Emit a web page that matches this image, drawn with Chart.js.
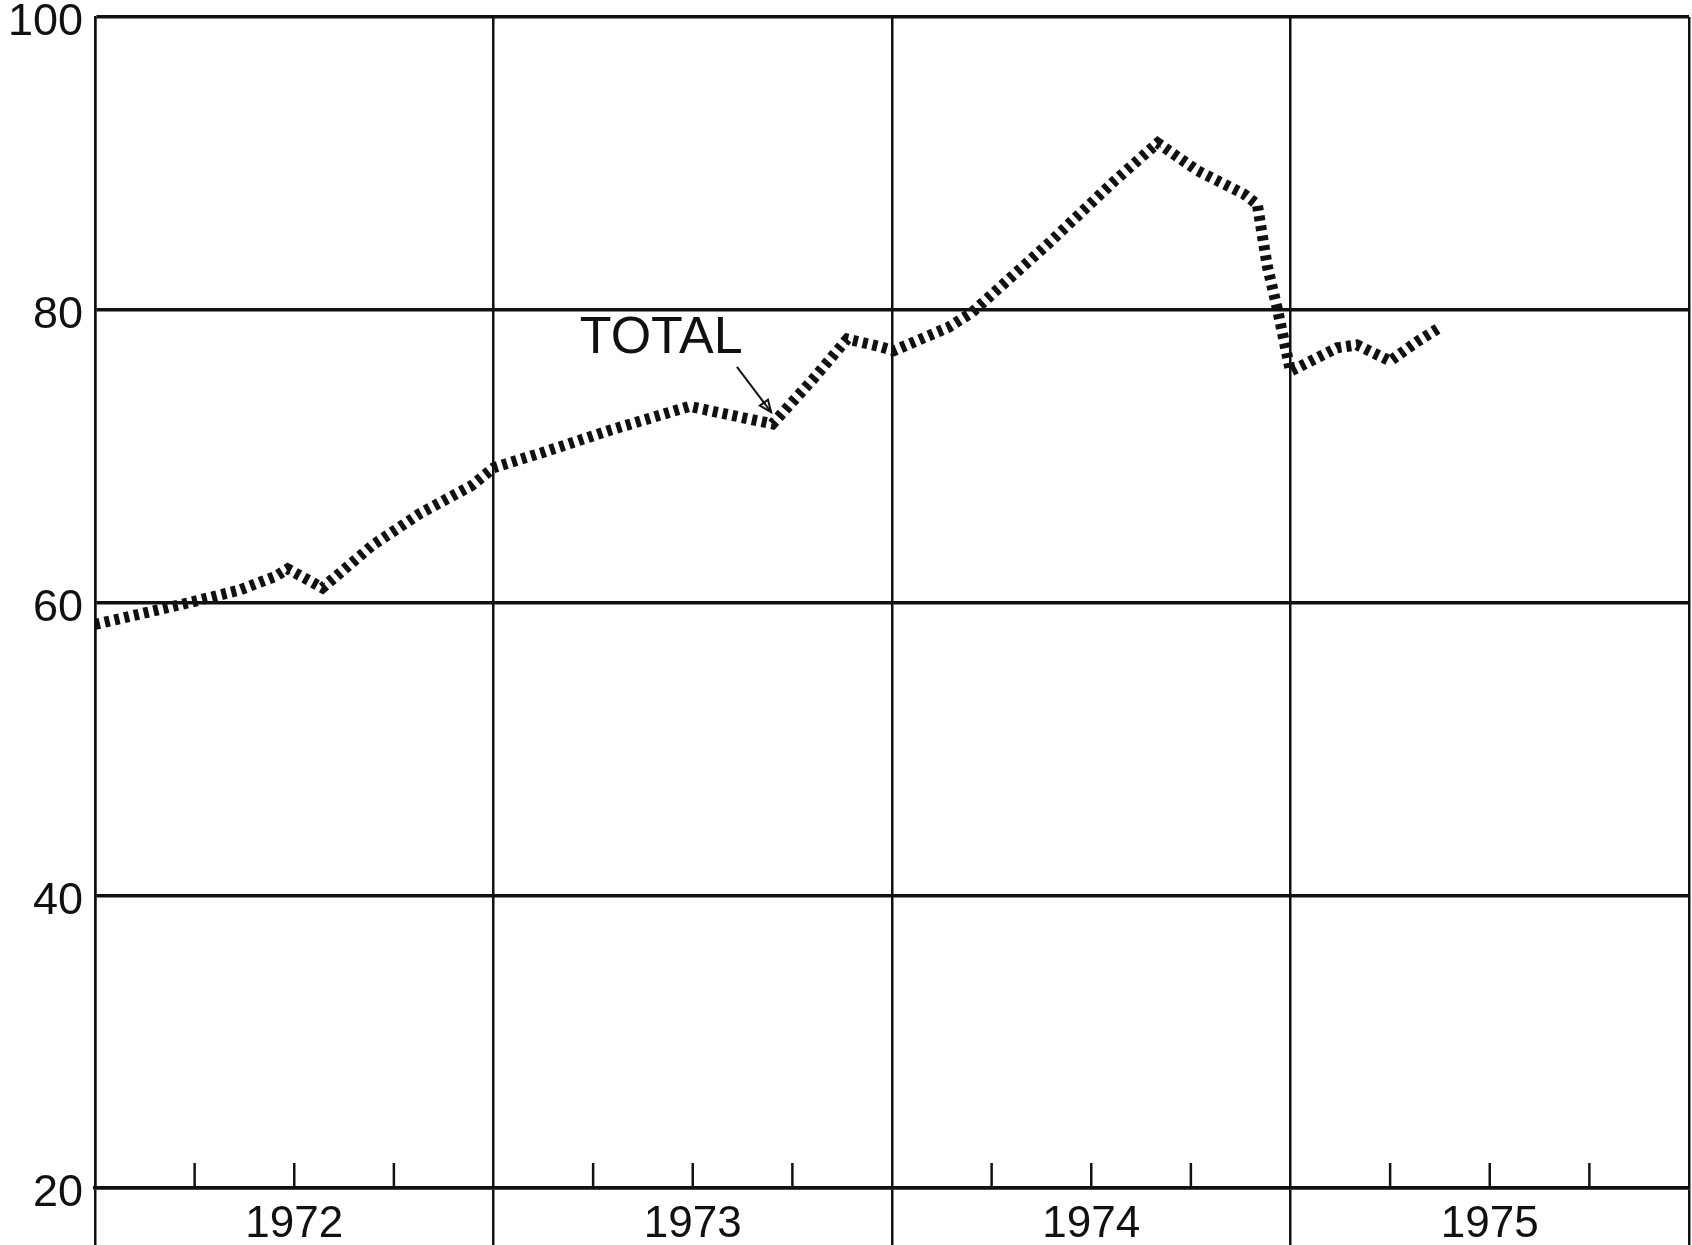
<!DOCTYPE html>
<html>
<head>
<meta charset="utf-8">
<script src="https://cdn.jsdelivr.net/npm/chart.js@4.4.0/dist/chart.umd.min.js"></script>
<style>
  html, body { margin: 0; padding: 0; background: #fff; }
</style>
</head>
<body>
<canvas id="total-chart" width="1692" height="1245"></canvas>
<script>
// x is months since Jan 1972, y is the index value
const yearLabels = ["1972", "1973", "1974", "1975"];
const monthPos = [0, 1.9, 2.85, 4.35, 5.45, 5.8, 6.85, 8.35, 9.8, 11.35, 12.0,
    13.55, 15.55, 17.9, 20.4, 21.6, 22.65, 23.6, 24.05, 25.7, 26.4, 28.7, 30.7,
    32.0, 33.2, 34.6, 35.0, 35.3, 35.6, 36.0, 37.4, 38.0, 39.0, 39.8, 40.5];
const totalValues = [58.5, 59.5, 60.0, 60.85, 61.8, 62.3, 61.0, 63.9, 66.1, 68.0, 69.2,
    70.3, 71.8, 73.4, 72.2, 75.2, 78.0, 77.5, 77.2, 78.8, 79.8, 84.5, 88.8,
    91.4, 89.5, 87.9, 87.2, 83.0, 80.1, 75.8, 77.4, 77.6, 76.5, 77.8, 78.8];
const yTickLabels = ["20", "40", "60", "80", "100"];
const quarterTicks = [3, 6, 9, 15, 18, 21, 27, 30, 33, 39, 42, 45];

// the "TOTAL" note and its arrow, in data units
const seriesLabel = "TOTAL";
const notePos = [14.6, 78.0];
const arrowFrom = [19.33, 76.1];
const arrowTo = [20.36, 73.0];

const ink = "#111";
const fontFamily = "'Liberation Sans Narrow', 'Liberation Sans', sans-serif";

const extras = {
    id: "extras",
    afterDatasetsDraw(chart) {
        const { ctx, chartArea } = chart;
        const x = chart.scales.x, y = chart.scales.y;
        ctx.save();
        ctx.strokeStyle = ink;
        ctx.fillStyle = ink;

        // short quarter marks standing on the base line
        ctx.lineWidth = 2.5;
        quarterTicks.forEach(m => {
            const px = x.getPixelForValue(m);
            ctx.beginPath();
            ctx.moveTo(px, chartArea.bottom);
            ctx.lineTo(px, chartArea.bottom - 25);
            ctx.stroke();
        });

        ctx.font = "52px " + fontFamily;
        ctx.textBaseline = "middle";
        ctx.textAlign = "left";
        ctx.fillText(seriesLabel, x.getPixelForValue(notePos[0]), y.getPixelForValue(notePos[1]));

        const x0 = x.getPixelForValue(arrowFrom[0]), y0 = y.getPixelForValue(arrowFrom[1]);
        const x1 = x.getPixelForValue(arrowTo[0]), y1 = y.getPixelForValue(arrowTo[1]);
        ctx.lineWidth = 2;
        ctx.beginPath();
        ctx.moveTo(x0, y0);
        ctx.lineTo(x1, y1);
        ctx.stroke();
        const a = Math.atan2(y1 - y0, x1 - x0);
        ctx.beginPath();
        ctx.moveTo(x1, y1);
        ctx.lineTo(x1 - 13 * Math.cos(a - 0.4), y1 - 13 * Math.sin(a - 0.4));
        ctx.lineTo(x1 - 13 * Math.cos(a + 0.4), y1 - 13 * Math.sin(a + 0.4));
        ctx.closePath();
        ctx.stroke();
        ctx.restore();
    }
};

const ctx = document.getElementById("total-chart").getContext("2d");

new Chart(ctx, {
    type: "line",
    data: {
        datasets: [{
            label: seriesLabel,
            data: monthPos.map((m, i) => ({ x: m, y: totalValues[i] })),
            borderColor: ink,
            borderWidth: 11,
            borderDash: [5, 5],
            borderCapStyle: "butt",
            pointRadius: 0,
            tension: 0,
            fill: false
        }]
    },
    options: {
        responsive: false,
        animation: false,
        layout: { padding: { top: 17, right: 3, left: 0, bottom: 0 } },
        plugins: { legend: { display: false }, tooltip: { enabled: false } },
        scales: {
            x: {
                type: "linear",
                min: 0,
                max: 48,
                afterFit: s => { s.height = 57; s.paddingLeft = 0; s.paddingRight = 0; },
                grid: {
                    color: c => c.tick && c.tick.value % 12 === 0 ? ink : "rgba(0,0,0,0)",
                    tickColor: c => c.tick && c.tick.value % 12 === 0 ? ink : "rgba(0,0,0,0)",
                    lineWidth: 2.5,
                    tickLength: 57
                },
                border: { color: ink, width: 3.5 },
                ticks: {
                    stepSize: 6,
                    autoSkip: false,
                    maxRotation: 0,
                    padding: -42,
                    color: ink,
                    font: { family: fontFamily, size: 44, lineHeight: 1 },
                    callback: v => v % 12 === 6 ? yearLabels[(v - 6) / 12] : ""
                }
            },
            y: {
                min: 20,
                max: 100,
                afterFit: s => { s.width = 95; s.paddingTop = 0; s.paddingBottom = 0; },
                grid: { color: ink, lineWidth: 3.5, drawTicks: false },
                border: { color: ink, width: 2.5 },
                ticks: {
                    stepSize: 20,
                    padding: 12,
                    labelOffset: 6,
                    color: ink,
                    font: { family: fontFamily, size: 45, lineHeight: 1 },
                    callback: v => yTickLabels[(v - 20) / 20]
                }
            }
        }
    },
    plugins: [extras]
});
</script>
</body>
</html>
